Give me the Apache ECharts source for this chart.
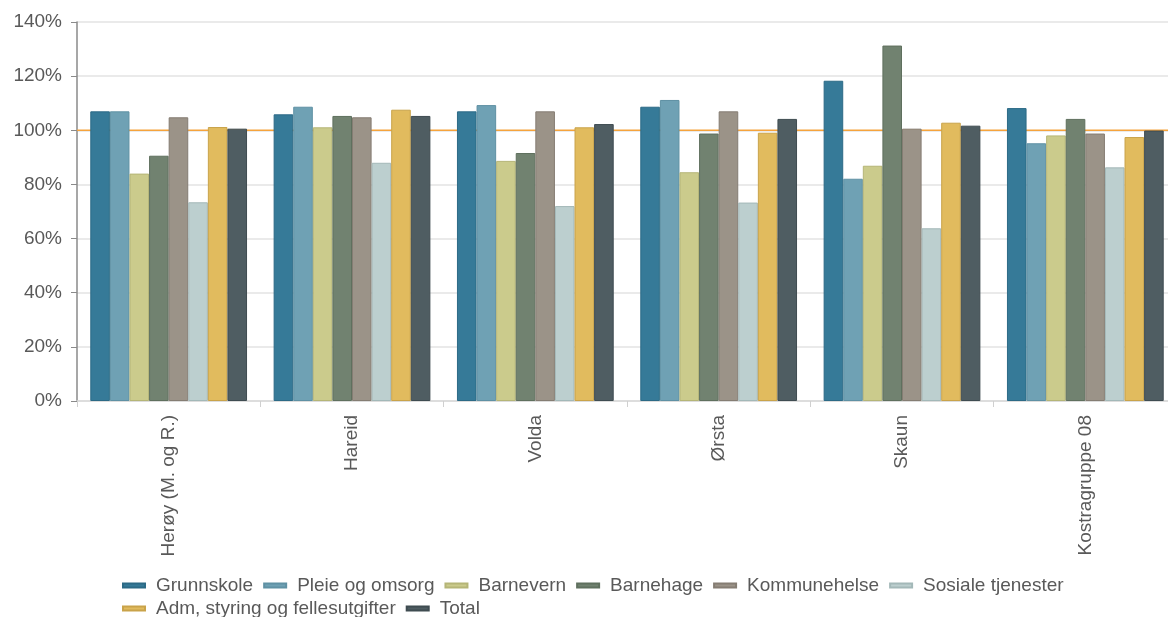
<!DOCTYPE html>
<html>
<head>
<meta charset="utf-8">
<script src="https://cdn.jsdelivr.net/npm/echarts@6/dist/echarts.min.js"></script>
<style>
html,body{margin:0;padding:0;background:#fff;}
#c{width:1168px;height:617px;}
</style>
</head>
<body>
<div id="c"></div>
<script>
const categories = ['Herøy (M. og R.)', 'Hareid', 'Volda', 'Ørsta', 'Skaun', 'Kostragruppe 08'];
const seriesNames = ['Grunnskole', 'Pleie og omsorg', 'Barnevern', 'Barnehage', 'Kommunehelse', 'Sosiale tjenester', 'Adm, styring og fellesutgifter', 'Total'];
const grunnskole = [107.0, 105.9, 107.0, 108.7, 118.3, 108.2];
const pleieOgOmsorg = [107.0, 108.7, 109.3, 111.2, 82.1, 95.2];
const barnevern = [84.0, 101.1, 88.7, 84.5, 86.9, 98.1];
const barnehage = [90.6, 105.3, 91.6, 98.8, 131.3, 104.2];
const kommunehelse = [104.8, 104.8, 107.0, 107.0, 100.6, 98.8];
const sosialeTjenester = [73.4, 88.0, 72.0, 73.3, 63.8, 86.3];
const admStyring = [101.2, 107.6, 101.1, 99.1, 102.8, 97.5];
const total = [100.6, 105.3, 102.3, 104.2, 101.7, 99.9];
const referenceValue = 100;
const yTicks = [0, 20, 40, 60, 80, 100, 120, 140];

const values = [grunnskole, pleieOgOmsorg, barnevern, barnehage, kommunehelse, sosialeTjenester, admStyring, total];
const colors = ['#367a98', '#6fa1b4', '#cbcb8c', '#718270', '#9b9388', '#bccfcf', '#e1bb5e', '#4f5d62'];
const borders = ['#2c6a86', '#5f91a4', '#b5b577', '#5f705e', '#857d73', '#a3b8b8', '#c9a34a', '#3f4c51'];
const FONT = '"Liberation Sans", Arial, sans-serif';
const TXT = '#595959';

const chart = echarts.init(document.getElementById('c'), null, {renderer: 'canvas'});

const series = values.map((d, i) => ({
  name: seriesNames[i],
  type: 'bar',
  data: d,
  z: 3,
  barGap: '0%',
  barCategoryGap: '14.5%',
  itemStyle: {color: colors[i], borderColor: borders[i], borderWidth: 1},
  emphasis: {disabled: true}
}));
series.push({
  name: 'ref',
  type: 'line',
  xAxisIndex: 1,
  data: [[0, referenceValue], [1, referenceValue]],
  z: 1,
  symbol: 'none',
  silent: true,
  lineStyle: {color: '#f5a33c', width: 1.6},
  emphasis: {disabled: true}
});

const legendCommon = {
  orient: 'horizontal',
  icon: 'rect',
  itemWidth: 22,
  itemHeight: 4,
  itemGap: 10,
  selectedMode: false,
  textStyle: {fontFamily: FONT, fontSize: 19, color: TXT, padding: [0, 0, 0, 6]}
};

chart.setOption({
  animation: false,
  color: colors,
  grid: {left: 77, top: 22, bottom: 216, width: 1100, containLabel: false, outerBoundsMode: 'none'},
  legend: [
    Object.assign({}, legendCommon, {left: 117, top: 571, data: seriesNames.slice(0, 6)}),
    Object.assign({}, legendCommon, {left: 117, top: 594, data: seriesNames.slice(6)})
  ],
  xAxis: [{
    type: 'category',
    data: categories,
    axisLine: {show: true, lineStyle: {color: '#d9d9d9', width: 1.5}},
    axisTick: {show: true, length: 6, lineStyle: {color: '#d0d0d0'}},
    axisLabel: {rotate: 90, margin: 14, fontFamily: FONT, fontSize: 19, color: TXT}
  }, {
    type: 'value',
    min: 0,
    max: 1,
    show: false
  }],
  yAxis: {
    type: 'value',
    min: yTicks[0],
    max: yTicks[yTicks.length - 1],
    interval: 20,
    axisLine: {show: true, lineStyle: {color: '#8a8a8a', width: 1.5}},
    axisTick: {show: true, length: 6, lineStyle: {color: '#8a8a8a'}},
    splitLine: {show: true, lineStyle: {color: '#e3e3e3', width: 1.5}},
    axisLabel: {margin: 15, fontFamily: FONT, fontSize: 19, color: TXT, formatter: v => v + '%'}
  },
  series: series
});
</script>
</body>
</html>
